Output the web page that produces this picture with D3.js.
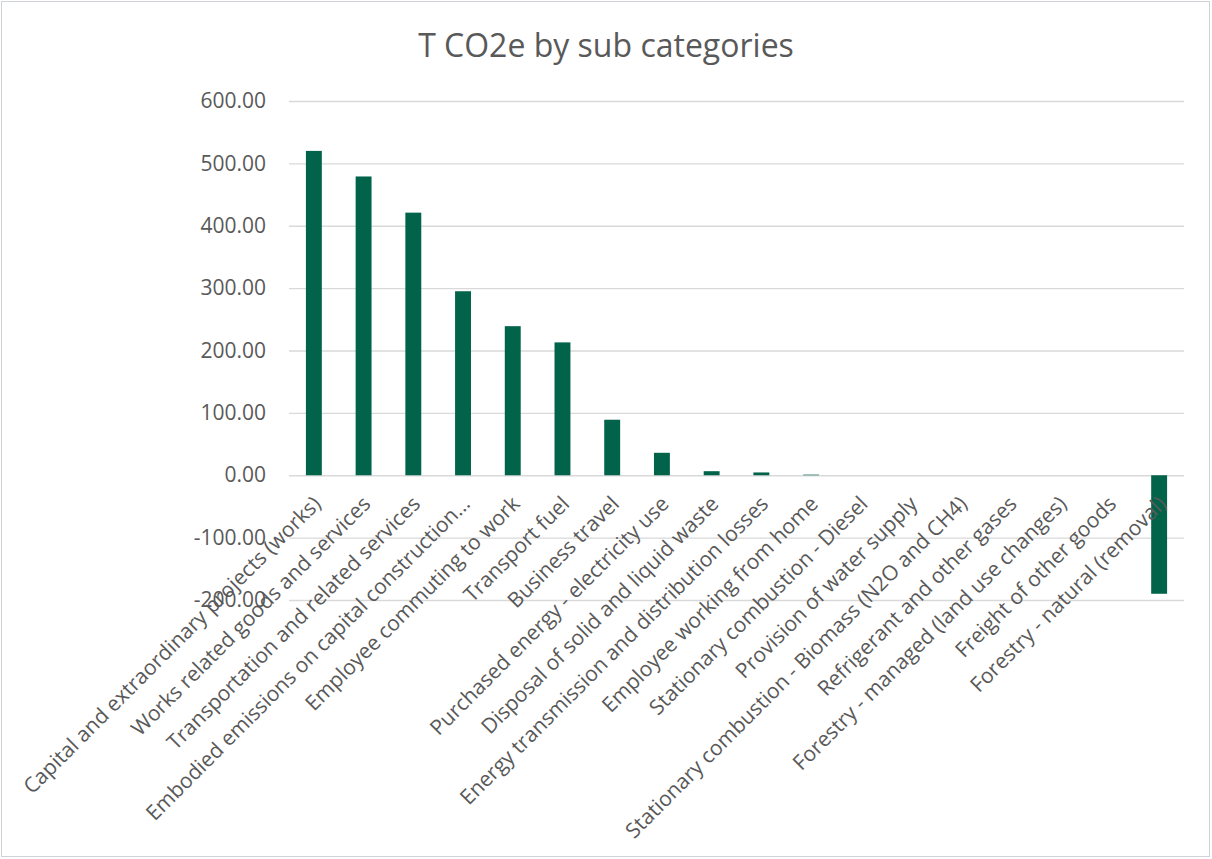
<!DOCTYPE html>
<html>
<head>
<meta charset="utf-8">
<script src="https://cdn.jsdelivr.net/npm/d3@7"></script>
<style>
  body { margin: 0; background: #fff; }
  svg { display: block; }
</style>
</head>
<body>
<div id="chart"></div>
<script>
// Sub categories, in the order the bars are drawn.
var categories = [
  "Capital and extraordinary projects (works)",
  "Works related goods and services",
  "Transportation and related services",
  "Embodied emissions on capital construction\u2026",
  "Employee commuting to work",
  "Transport fuel",
  "Business travel",
  "Purchased energy - electricity use",
  "Disposal of solid and liquid waste",
  "Energy transmission and distribution losses",
  "Employee working from home",
  "Stationary combustion - Diesel",
  "Provision of water supply",
  "Stationary combustion - Biomass (N2O and CH4)",
  "Refrigerant and other gases",
  "Forestry - managed (land use changes)",
  "Freight of other goods",
  "Forestry - natural (removal)"
];

// T CO2e for each sub category.
var tco2e = [520, 479, 421, 295, 239, 213, 89, 36, 6.5, 4.5, 1, 0, 0, 0, 0, 0, 0, -190];

var yTicks = [-200, -100, 0, 100, 200, 300, 400, 500, 600];

var chartTitle = "T CO2e by sub categories";

function buildChart(divName) {
  var width = 1212;
  var height = 859;
  var left = 289, right = 1184, top = 101, bottom = 600;
  var fontFamily = "'Open Sans', 'Noto Sans', sans-serif";

  var data = categories.map(function(name, i) {
    return {name: name, value: tco2e[i]};
  });

  var x = d3.scaleBand().
            domain(categories).
            range([left, right]).
            paddingInner(0.68).
            paddingOuter(0.34);
  var y = d3.scaleLinear().domain([-200, 600]).range([bottom, top]);

  var svg = d3.select("#" + divName).
              append("svg").
              attr("width", width).
              attr("height", height);

  // chart border
  svg.append("rect").
    attr("x", 1.5).attr("y", 1.5).
    attr("width", width - 4).attr("height", height - 4).
    attr("fill", "#fff").
    attr("stroke", "#d0d4d9");

  svg.append("text").
    attr("x", width / 2).
    attr("y", 57).
    attr("text-anchor", "middle").
    attr("fill", "#595959").
    attr("style", "font-size: 32px; font-family: " + fontFamily).
    text(chartTitle);

  // gridlines + value labels
  var yAxis = d3.axisLeft(y).
                tickValues(yTicks).
                tickSize(-(right - left)).
                tickPadding(23).
                tickFormat(function(d) { return d.toFixed(2); });

  var gy = svg.append("g").
             attr("transform", "translate(" + left + ",0)").
             call(yAxis);
  gy.select(".domain").remove();
  gy.selectAll(".tick line").attr("stroke", "#d9d9d9").attr("stroke-width", 1.4);
  gy.selectAll(".tick text").
    attr("fill", "#595959").
    attr("style", "font-size: 21px; font-family: " + fontFamily);

  svg.selectAll("rect.bar").
    data(data).
    enter().
    append("rect").
    attr("class", "bar").
    attr("x", function(datum) { return x(datum.name); }).
    attr("y", function(datum) { return y(Math.max(0, datum.value)); }).
    attr("width", x.bandwidth()).
    attr("height", function(datum) { return Math.abs(y(datum.value) - y(0)); }).
    attr("fill", "#00634a");

  // rotated category labels, drawn over the bars like the original
  svg.selectAll("text.cat").
    data(data).
    enter().
    append("text").
    attr("class", "cat").
    attr("transform", function(datum) {
      var cx = x(datum.name) + x.bandwidth() / 2;
      return "translate(" + (cx + 3) + "," + 500 + ") rotate(-45)";
    }).
    attr("text-anchor", "end").
    attr("dy", "0.35em").
    attr("fill", "#595959").
    attr("style", "font-size: 21px; font-family: " + fontFamily).
    text(function(datum) { return datum.name; });
}

document.addEventListener('DOMContentLoaded', function () {
  buildChart("chart");
});
</script>
</body>
</html>
